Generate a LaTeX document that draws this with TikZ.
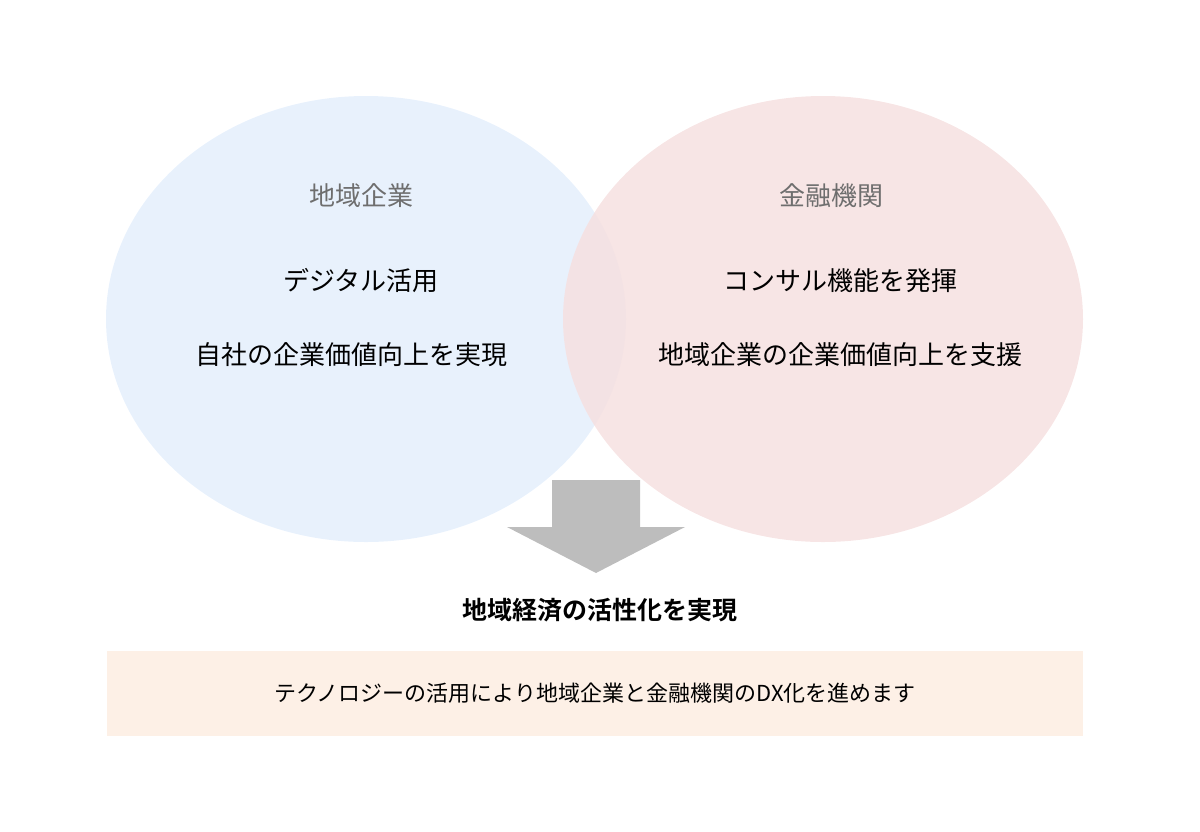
\documentclass[tikz,border=0pt]{standalone}
\usepackage{fontspec}
\setmainfont{Noto Sans CJK JP}
\newfontfamily\jpbold{Noto Sans CJK JP Bold}
\definecolor{leftfill}{HTML}{E4EFFC}
\definecolor{rightfill}{HTML}{F6E0E0}
\definecolor{arrowgray}{HTML}{BDBDBD}
\definecolor{boxfill}{HTML}{FDF0E6}
\definecolor{titlegray}{HTML}{6E6E6E}
\begin{document}
\begin{tikzpicture}[x=1pt, y=-1pt]
    \tikzset{
        circ/.style={fill opacity=0.85, draw=none},
        head/.style={text=titlegray, font=\fontsize{26}{30}\selectfont},
        body/.style={text=black, font=\fontsize{26}{30}\selectfont},
    }
    \useasboundingbox (0,0) rectangle (1200,831);

    \fill[leftfill, circ] (366,319) ellipse (260 and 223);
    \fill[rightfill, circ] (823,319) ellipse (260 and 223);

    \node at (361,196) (lhead) [head] {地域企業};
    \node at (361,281) (lone) [body] {デジタル活用};
    \node at (351,355) (ltwo) [body] {自社の企業価値向上を実現};
    \node at (831,196) (rhead) [head] {金融機関};
    \node at (840,281) (rone) [body] {コンサル機能を発揮};
    \node at (840,355) (rtwo) [body] {地域企業の企業価値向上を支援};

    \fill[arrowgray] (552,480) -- (640,480) -- (640,527) -- (685,527)
        -- (596,573) -- (507,527) -- (552,527) -- cycle;

    \node at (600,610) (goal) [font=\jpbold\fontsize{25}{30}\selectfont] {地域経済の活性化を実現};

    \fill[boxfill] (107,651) rectangle (1083,736);
    \node at (595,693) (note) [font=\fontsize{22}{26}\selectfont] {テクノロジーの活用により地域企業と金融機関のDX化を進めます};
\end{tikzpicture}
\end{document}
